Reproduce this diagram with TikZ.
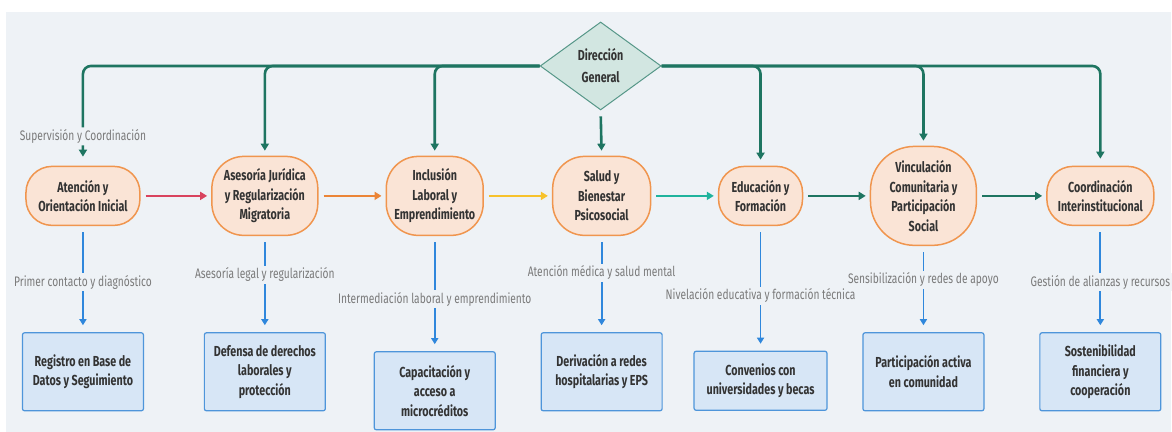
\documentclass[tikz,border=0pt]{standalone}
\usepackage{fontspec}
\setmainfont{Fira Sans}[FakeStretch=0.74]
\usetikzlibrary{arrows.meta,shapes.geometric}

\definecolor{bgc}{HTML}{EEF2F6}
\definecolor{dgreen}{HTML}{1E7561}
\definecolor{dfill}{HTML}{D2E6E1}
\definecolor{oline}{HTML}{F0954E}
\definecolor{ofill}{HTML}{FAE4D6}
\definecolor{bline}{HTML}{4E95DA}
\definecolor{bfill}{HTML}{D7E6F6}
\definecolor{barrow}{HTML}{2F87DC}
\definecolor{redarr}{HTML}{D9435E}
\definecolor{orgarr}{HTML}{EB8537}
\definecolor{yelarr}{HTML}{F7C22C}
\definecolor{tealarr}{HTML}{1FB39D}
\definecolor{txt}{HTML}{333333}
\definecolor{lbl}{HTML}{7A7A7A}

\begin{document}
\begin{tikzpicture}[x=1pt,y=-1pt,
  dirbox/.style={diamond, draw=dgreen!75, fill=dfill, line width=1pt, inner sep=0pt,
    minimum width=121pt, minimum height=88pt, align=center, text=txt,
    font=\fontsize{14.5}{22}\selectfont\bfseries},
  areabox/.style={draw=oline, fill=ofill, line width=1.5pt, inner sep=0pt, align=center,
    text=txt, font=\fontsize{14.5}{19.5}\selectfont\bfseries},
  resbox/.style={draw=bline, fill=bfill, line width=1.2pt, rounded corners=2pt, inner sep=0pt,
    minimum width=121pt, minimum height=78pt, align=center, text=txt,
    font=\fontsize{14.5}{19.5}\selectfont\bfseries},
  toparr/.style={draw=dgreen, line width=2.6pt, rounded corners=8pt, shorten >=6pt,
    -{Triangle[length=7pt,width=8pt]}},
  flowarr/.style={line width=2.6pt, shorten <=5pt, shorten >=4pt,
    -{Triangle[length=7pt,width=8pt]}},
  downarr/.style={draw=barrow, line width=1.8pt, shorten <=6pt, shorten >=7pt,
    -{Triangle[length=6pt,width=7pt]}},
  lab/.style={fill=bgc, inner sep=2pt, text=lbl, font=\fontsize{13.8}{15}\selectfont}]

% background
\fill[white] (0,0) rectangle (1172,432);
\fill[bgc] (6,12) rectangle (1172,432);

% direction
\node[dirbox] (dg) at (601,66) {Dirección\\General};

% areas
\node[areabox, minimum width=114pt, minimum height=59pt, rounded corners=26pt] (ati) at (83,196) {Atención y\\Orientación Inicial};
\node[areabox, minimum width=106pt, minimum height=79pt, rounded corners=32pt] (asj) at (265,196) {Asesoría Jurídica\\y Regularización\\Migratoria};
\node[areabox, minimum width=97pt, minimum height=79pt, rounded corners=32pt] (inc) at (435,196) {Inclusión\\Laboral y\\Emprendimiento};
\node[areabox, minimum width=98pt, minimum height=79pt, rounded corners=32pt] (sal) at (602,196) {Salud y\\Bienestar\\Psicosocial};
\node[areabox, minimum width=84pt, minimum height=59pt, rounded corners=26pt] (edu) at (761,196) {Educación y\\Formación};
\node[areabox, minimum width=106pt, minimum height=99pt, rounded corners=44pt] (vin) at (924,196) {Vinculación\\Comunitaria y\\Participación\\Social};
\node[areabox, minimum width=107pt, minimum height=59pt, rounded corners=26pt] (coo) at (1101,196) {Coordinación\\Interinstitucional};

% results
\node[resbox] (reg) at (83,372) {Registro en Base de\\Datos y Seguimiento};
\node[resbox] (def) at (265,372) {Defensa de derechos\\laborales y\\protección};
\node[resbox] (cap) at (435,391) {Capacitación y\\acceso a\\microcréditos};
\node[resbox] (der) at (602,372) {Derivación a redes\\hospitalarias y EPS};
\node[resbox, minimum width=133pt, minimum height=59pt] (con) at (761,381) {Convenios con\\universidades y becas};
\node[resbox] (par) at (924,372) {Participación activa\\en comunidad};
\node[resbox] (sos) at (1101,372) {Sostenibilidad\\financiera y\\cooperación};

% direction to areas
\draw[toparr, shorten >=9pt] (dg.west) -| node[lab, pos=0.853] {Supervisión y Coordinación} (ati.north);
\draw[toparr, shorten >=5pt] (dg.west) -| (asj.north);
\draw[toparr, shorten >=5pt] (dg.west) -| (inc.north);
\draw[toparr, shorten <=6pt, shorten >=5pt] (dg.south) -- (sal.north);
\draw[toparr] (dg.east) -| (edu.north);
\draw[toparr, shorten >=5pt] (dg.east) -| (vin.north);
\draw[toparr, shorten >=7pt] (dg.east) -| (coo.north);

% flow between areas
\draw[flowarr, draw=redarr] (ati) -- (asj);
\draw[flowarr, draw=orgarr] (asj) -- (inc);
\draw[flowarr, draw=yelarr] (inc) -- (sal);
\draw[flowarr, draw=tealarr] (sal) -- (edu);
\draw[flowarr, draw=dgreen] (edu) -- (vin);
\draw[flowarr, draw=dgreen] (vin) -- (coo);

% areas to results
\draw[downarr] (ati) -- node[lab, pos=0.53] {Primer contacto y diagnóstico} (reg);
\draw[downarr] (asj) -- node[lab, pos=0.40] {Asesoría legal y regularización} (def);
\draw[downarr] (inc) -- node[lab, pos=0.55] {Intermediación laboral y emprendimiento} (cap);
\draw[downarr] (sal) -- node[lab, pos=0.38] {Atención médica y salud mental} (der);
\draw[downarr] (edu) -- node[lab, pos=0.56] {Nivelación educativa y formación técnica} (con);
\draw[downarr] (vin) -- node[lab, pos=0.39] {Sensibilización y redes de apoyo} (par);
\draw[downarr] (coo) -- node[lab, pos=0.53] {Gestión de alianzas y recursos} (sos);

\useasboundingbox (0,0) rectangle (1172,432);
\end{tikzpicture}
\end{document}
